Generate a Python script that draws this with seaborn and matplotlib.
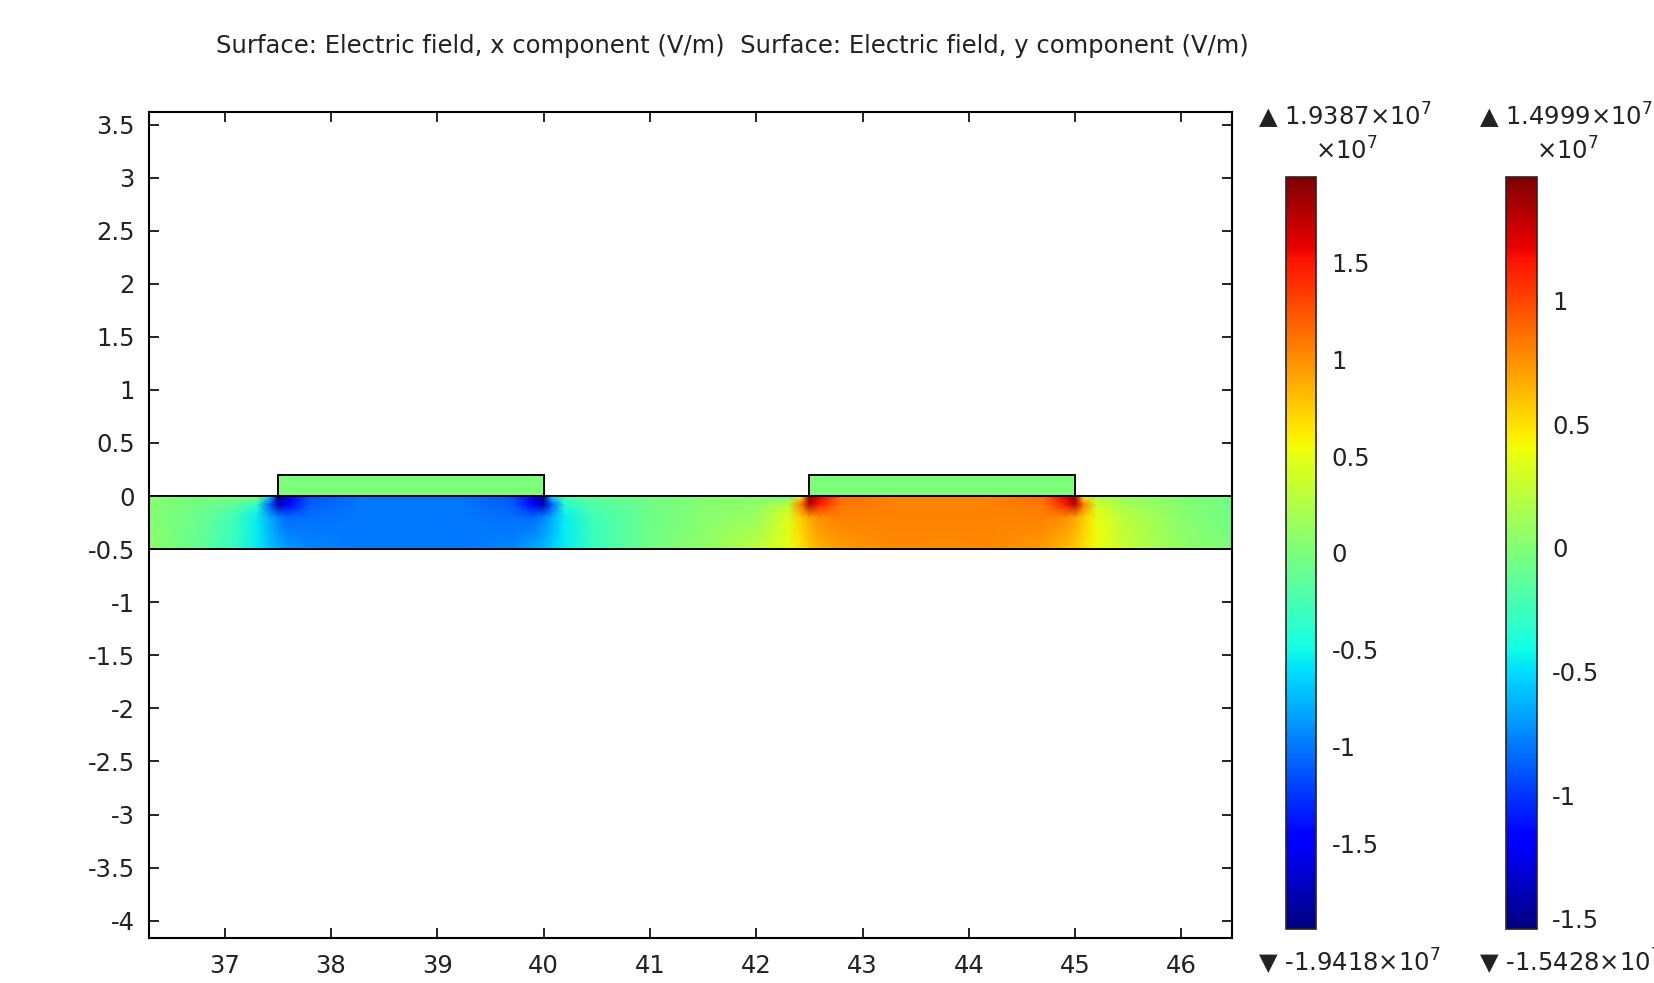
import numpy as np
import matplotlib
matplotlib.use("Agg")
import matplotlib.pyplot as plt
import seaborn as sns
from matplotlib.patches import Rectangle
from matplotlib.colors import Normalize
from matplotlib.cm import ScalarMappable

# ---------------- data (field values in units of 1e7 V/m) ----------------
x_pts = [36.286, 36.8, 37.1, 37.3, 37.42, 37.5, 37.6, 37.8, 38.3, 39.2, 39.7, 39.9,
         40.0, 40.08, 40.2, 40.45, 41.0, 41.5, 42.0, 42.3, 42.42, 42.5, 42.6, 42.8,
         43.3, 44.2, 44.7, 44.9, 45.0, 45.08, 45.2, 45.45, 46.0, 46.476]
y_pts = [-0.5, -0.2, -0.08, 0.0]

ex_bottom = [0.1, -0.15, -0.35, -0.55, -0.7, -0.78, -0.88, -0.95, -1.0, -1.0, -0.95, -0.82,
             -0.75, -0.68, -0.55, -0.32, -0.05, 0.1, 0.3, 0.5, 0.65, 0.75, 0.85, 0.95,
             1.02, 1.02, 0.95, 0.82, 0.75, 0.68, 0.55, 0.35, 0.1, 0.0]
ex_mid = [0.05, -0.1, -0.3, -0.55, -0.8, -0.95, -1.05, -1.02, -1.0, -1.0, -1.02, -1.05,
          -0.95, -0.8, -0.55, -0.3, -0.07, 0.05, 0.15, 0.45, 0.75, 0.9, 1.0, 1.05,
          1.05, 1.05, 1.05, 1.0, 0.9, 0.75, 0.5, 0.3, 0.07, -0.05]
ex_upper = [0.05, -0.05, -0.15, -0.35, -1.1, -1.75, -1.45, -1.1, -1.0, -1.0, -1.1, -1.45,
            -1.75, -1.1, -0.4, -0.2, -0.05, 0.05, 0.1, 0.3, 1.1, 1.75, 1.45, 1.1,
            1.05, 1.05, 1.1, 1.45, 1.75, 1.1, 0.4, 0.2, 0.05, -0.05]
ex_top = [0.05, 0.0, 0.05, 0.1, -0.6, -1.9, -1.6, -1.15, -1.02, -1.02, -1.15, -1.6,
          -1.9, -0.6, -0.2, -0.12, -0.02, 0.05, 0.05, -0.1, 0.6, 1.9, 1.6, 1.15,
          1.05, 1.05, 1.15, 1.6, 1.9, 0.6, 0.2, 0.12, 0.02, -0.05]

electrode_x = [37.5, 42.5]
electrode_w = [2.5, 2.5]
electrode_h = [0.2, 0.2]
electrode_val = [0.0, 0.0]

band_y = [-0.5, 0.0]

ex_range = [-1.9418, 1.9387]
ey_range = [-1.5428, 1.4999]
ex_ticks = [-1.5, -1.0, -0.5, 0.0, 0.5, 1.0, 1.5]
ex_ticklabels = ["-1.5", "-1", "-0.5", "0", "0.5", "1", "1.5"]
ey_ticks = [-1.5, -1.0, -0.5, 0.0, 0.5, 1.0]
ey_ticklabels = ["-1.5", "-1", "-0.5", "0", "0.5", "1"]

x_ticks = [37, 38, 39, 40, 41, 42, 43, 44, 45, 46]
x_ticklabels = ["37", "38", "39", "40", "41", "42", "43", "44", "45", "46"]
y_ticks = [3.5, 3, 2.5, 2, 1.5, 1, 0.5, 0, -0.5, -1, -1.5, -2, -2.5, -3, -3.5, -4]
y_ticklabels = ["3.5", "3", "2.5", "2", "1.5", "1", "0.5", "0", "-0.5", "-1", "-1.5",
                "-2", "-2.5", "-3", "-3.5", "-4"]
x_lim = [36.286, 46.476]
y_lim = [-4.16, 3.62]

title_text = "Surface: Electric field, x component (V/m)  Surface: Electric field, y component (V/m)"

# ---------------- style ----------------
sns.set_style("ticks")
plt.rcParams['font.family'] = ['DejaVu Sans']
plt.rcParams['axes.unicode_minus'] = False
FS = 17.5
TXT = "#222222"

fig = plt.figure(figsize=(16.54, 9.83), dpi=100)
fig.patch.set_facecolor("white")

ax = fig.add_axes([0.0899, 0.0461, 0.7449 - 0.0899, 0.8863 - 0.0461])

cmap = plt.get_cmap("jet")
norm_x = Normalize(vmin=ex_range[0], vmax=ex_range[1])
norm_y = Normalize(vmin=ey_range[0], vmax=ey_range[1])

X, Y = np.meshgrid(np.array(x_pts), np.array(y_pts))
Z = np.array([ex_bottom, ex_mid, ex_upper, ex_top])
ax.pcolormesh(X, Y, Z, cmap=cmap, norm=norm_x, shading="gouraud", zorder=1)

# band outline
ax.add_patch(Rectangle((x_lim[0], band_y[0]), x_lim[1] - x_lim[0], band_y[1] - band_y[0],
                       fill=False, edgecolor="black", lw=1.4, zorder=3))
# electrodes
for ex0, w, h, v in zip(electrode_x, electrode_w, electrode_h, electrode_val):
    ax.add_patch(Rectangle((ex0, 0.0), w, h, facecolor=cmap(norm_x(v)),
                           edgecolor="black", lw=1.4, zorder=4))

ax.set_xlim(*x_lim)
ax.set_ylim(*y_lim)
ax.set_xticks(x_ticks)
ax.set_xticklabels(x_ticklabels)
ax.set_yticks(y_ticks)
ax.set_yticklabels(y_ticklabels)
ax.tick_params(direction="in", length=7, width=1.2, top=True, right=True,
               labelsize=FS, labelcolor=TXT, color="black")
ax.tick_params(axis="x", pad=12)
ax.tick_params(axis="y", pad=10)
for s in ax.spines.values():
    s.set_visible(True)
    s.set_linewidth(1.5)
    s.set_color("black")

fig.text(0.1307, 0.953, title_text, fontsize=FS, color=TXT, ha="left", va="center")

# ---------------- colorbars ----------------
def make_cbar(left, norm, ticks, labels, vmax, vmin):
    cax = fig.add_axes([left, 0.0547, 0.0185, 0.8197 - 0.0547])
    sm = ScalarMappable(norm=norm, cmap=cmap)
    cb = fig.colorbar(sm, cax=cax)
    cb.set_ticks(ticks)
    cb.set_ticklabels(labels)
    cb.outline.set_linewidth(1.2)
    cax.tick_params(direction="in", length=5, width=1.0, left=True, right=True,
                    labelsize=FS, labelcolor=TXT, pad=11)
    fig.text(left - 0.0166, 0.882, "\u25B2 " + f"{vmax:.4f}" + r"×10$^{7}$",
             fontsize=FS, color=TXT, ha="left", va="center")
    fig.text(left + 0.0179, 0.846, r"×10$^{7}$", fontsize=FS, color=TXT,
             ha="left", va="center")
    fig.text(left - 0.0166, 0.021, "\u25BC " + f"{vmin:.4f}" + r"×10$^{7}$",
             fontsize=FS, color=TXT, ha="left", va="center")
    return cb

make_cbar(0.7774, norm_x, ex_ticks, ex_ticklabels, ex_range[1], ex_range[0])
make_cbar(0.9107, norm_y, ey_ticks, ey_ticklabels, ey_range[1], ey_range[0])

fig.savefig("out.png", dpi=100, facecolor="white")
